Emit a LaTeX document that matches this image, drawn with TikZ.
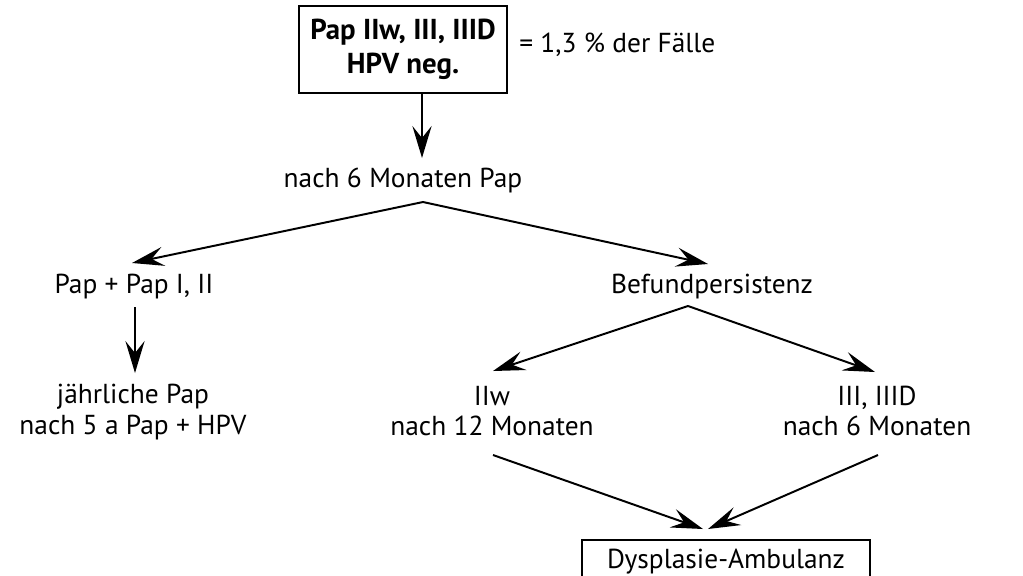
\documentclass[tikz,border=0pt]{standalone}
\usepackage{fontspec}
\setmainfont{PT Sans}
\usepackage{tikz}
\usetikzlibrary{arrows.meta, positioning, calc}

\begin{document}
\begin{tikzpicture}[
    x=0.025cm, y=-0.025cm,
    every node/.style={align=center, font=\fontsize{19.5}{21.5}\selectfont, inner sep=0pt},
    box/.style={draw, line width=1.4pt, minimum width=5.2cm},
    arrow/.style={-{Stealth[length=8mm, width=4.8mm, inset=3mm]}, line width=1.4pt}
]
    \useasboundingbox (0,0) rectangle (1023,575);
    \clip (0,0) rectangle (1023,575);

    \node[box, minimum height=2.175cm, font=\fontsize{20.5}{24}\selectfont\bfseries] (start) at (403,49.5) {Pap IIw, III, IIID\\HPV neg.};
    \node[anchor=west] (share) at (519,45) {= 1,3 \% der Fälle};
    \node (pap6) at (403,180) {nach 6 Monaten Pap};
    \node (normal) at (134,287) {Pap + Pap I, II};
    \node (persist) at (712,287) {Befundpersistenz};
    \node (yearly) at (133,412) {jährliche Pap\\nach 5 a Pap + HPV};
    \node (iiw) at (492,411) {IIw\\nach 12 Monaten};
    \node (iii) at (877,411) {III, IIID\\nach 6 Monaten};
    \node[box, minimum width=7.175cm, minimum height=1.1cm] (dys) at (726,562) {Dysplasie-Ambulanz};

    \draw[arrow] ($(start.south)+(19,0)$) -- ($(pap6)+(19,-22)$);
    \draw[arrow] ($(pap6)+(20,22)$) -- ($(normal)+(-2,-24)$);
    \draw[arrow] ($(pap6)+(20,22)$) -- ($(persist)+(-4,-23)$);
    \draw[arrow] ($(normal)+(1,20)$) -- ($(yearly)+(2,-39)$);
    \draw[arrow] ($(persist)+(-24,19)$) -- ($(iiw)+(1,-40)$);
    \draw[arrow] ($(persist)+(-24,19)$) -- ($(iii)+(-2,-39)$);
    \draw[arrow] ($(iiw)+(1,44)$) -- ($(dys)+(-23,-33)$);
    \draw[arrow] ($(iii)+(1,44)$) -- ($(dys)+(-18,-33)$);
\end{tikzpicture}
\end{document}
